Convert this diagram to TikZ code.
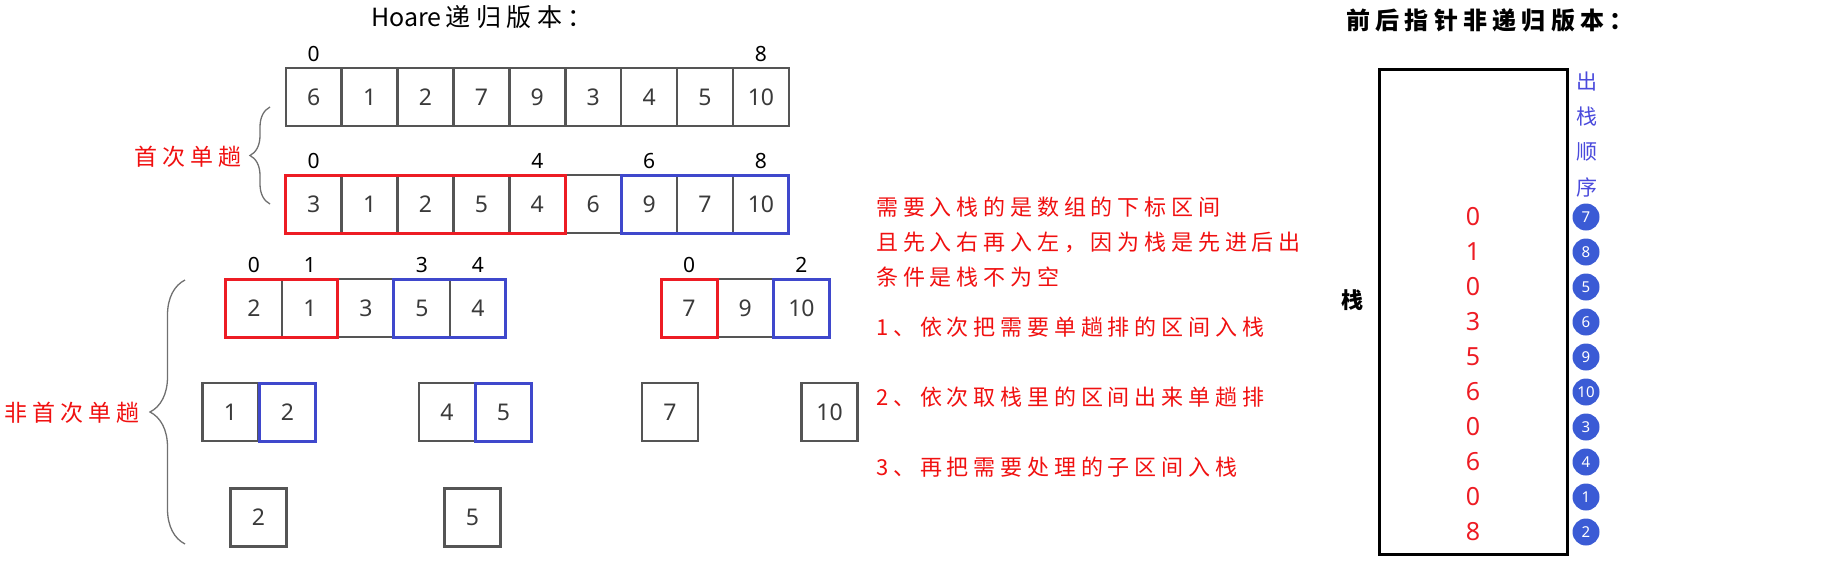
\documentclass[tikz,border=0pt]{standalone}
\usepackage{fontspec}
\setmainfont{Noto Sans}
\newfontfamily\cjk[LetterSpace=22]{Noto Sans CJK SC}
\newfontfamily\cjkplain{Noto Sans CJK SC}
\usetikzlibrary{positioning,decorations.pathreplacing}
\definecolor{cellgray}{HTML}{555555}
\definecolor{digitgray}{HTML}{3A3A3A}
\definecolor{boxred}{HTML}{ED1C24}
\definecolor{boxblue}{HTML}{3F48CC}
\definecolor{notered}{HTML}{F01010}
\definecolor{circblue}{HTML}{3B5BD5}
\definecolor{textblue}{HTML}{4A4ADC}
\definecolor{bracegray}{HTML}{707070}

\begin{document}
\begin{tikzpicture}[x=1pt,y=-1pt,
  cell/.style={draw=cellgray,line width=2.4pt,minimum width=56pt,minimum height=58pt,
    inner sep=0pt,outer sep=0pt,text=digitgray,font=\fontsize{23}{23}\selectfont},
  idx/.style={inner sep=0pt,font=\fontsize{21}{21}\selectfont},
  redbox/.style={draw=boxred,line width=3pt},
  bluebox/.style={draw=boxblue,line width=3pt},
  note/.style={text=notered,anchor=west,inner sep=0pt,font=\cjk\fontsize{22}{22}\selectfont},
  side/.style={text=notered,inner sep=0pt,font=\cjk\fontsize{23}{23}\selectfont},
  curly/.style={draw=bracegray,line width=1.3pt,decorate,decoration={brace,amplitude=#1}},
  stacknum/.style={text=boxred,inner sep=0pt,font=\fontsize{25}{25}\selectfont},
  order/.style={circle,fill=circblue,text=white,minimum size=27pt,inner sep=0pt,
    font=\fontsize{15}{15}\selectfont},
  ordertxt/.style={text=textblue,inner sep=0pt,font=\cjkplain\fontsize{21}{21}\selectfont}]
\useasboundingbox (0,0) rectangle (1831,560);

\node[inner sep=0pt,font=\fontsize{25}{25}\selectfont] (title1) at (482,17) {{\cjkplain Hoare}\,{\cjk 递归版本：}};

\foreach \v [count=\i from 0] in {6,1,2,7,9,3,4,5,10}
  \node[cell] (a\i) at (313.7+55.9*\i,97) {\v};
\node[idx,above=6pt of a0] (ia0) {0};
\node[idx,above=6pt of a8] (ia8) {8};

\foreach \v [count=\i from 0] in {3,1,2,5,4,6,9,7,10}
  \node[cell] (b\i) at (313.7+55.9*\i,204) {\v};
\node[idx,above=6pt of b0] (ib0) {0};
\node[idx,above=6pt of b4] (ib4) {4};
\node[idx,above=6pt of b6] (ib6) {6};
\node[idx,above=6pt of b8] (ib8) {8};
\draw[redbox] (b0.north west) rectangle (b4.south east);
\draw[bluebox] (b6.north west) rectangle (b8.south east);

\foreach \v [count=\i from 0] in {2,1,3,5,4}
  \node[cell] (c\i) at (253.9+56*\i,308) {\v};
\node[idx,above=6pt of c0] (ic0) {0};
\node[idx,above=6pt of c1] (ic1) {1};
\node[idx,above=6pt of c3] (ic3) {3};
\node[idx,above=6pt of c4] (ic4) {4};
\draw[redbox] (c0.north west) rectangle (c1.south east);
\draw[bluebox] (c3.north west) rectangle (c4.south east);

\foreach \v [count=\i from 0] in {7,9,10}
  \node[cell] (d\i) at (689+56.2*\i,308) {\v};
\node[idx,above=6pt of d0] (id0) {0};
\node[idx,above=6pt of d2] (id2) {2};
\draw[redbox] (d0.north west) rectangle (d0.south east);
\draw[bluebox] (d2.north west) rectangle (d2.south east);

\node[cell] (e0) at (230.5,412) {1};
\node[cell] (e1) at (287.5,412) {2};
\draw[bluebox] (e1.north west) rectangle (e1.south east);
\node[cell] (f0) at (447,412) {4};
\node[cell] (f1) at (503.5,412) {5};
\draw[bluebox] (f1.north west) rectangle (f1.south east);
\node[cell] (g0) at (670,412) {7};
\node[cell] (h0) at (829.5,412) {10};

\node[cell] (k0) at (258.5,517.5) {2};
\node[cell] (m0) at (472.5,517.5) {5};

\coordinate (br1a) at (270,107);
\coordinate (br1b) at (270,204);
\draw[curly=20pt] (br1b) -- (br1a);
\node[side] (first) at (188,157) {首次单趟};
\coordinate (br2a) at (185,280);
\coordinate (br2b) at (185,544);
\draw[curly=35pt] (br2b) -- (br2a);
\node[side] (notfirst) at (72,413) {非首次单趟};

\node[note] (n1) at (876,207) {需要入栈的是数组的下标区间};
\node[note] (n2) at (876,242) {且先入右再入左，因为栈是先进后出};
\node[note] (n3) at (876,277) {条件是栈不为空};
\node[note] (n4) at (876,327) {1、依次把需要单趟排的区间入栈};
\node[note] (n5) at (876,397) {2、依次取栈里的区间出来单趟排};
\node[note] (n6) at (876,467) {3、再把需要处理的子区间入栈};

\node[inner sep=0pt,font=\cjk\bfseries\fontsize{24}{24}\selectfont] (title2) at (1490,20) {前后指针非递归版本：};
\node[draw,line width=3pt,minimum width=188pt,minimum height=485pt,inner sep=0pt] (stk) at (1473,311.5) {};
\node[inner sep=0pt,font=\cjkplain\bfseries\fontsize{22}{22}\selectfont] (stklbl) at (1352,300) {栈};

\foreach \c [count=\k from 0] in {出,栈,顺,序}
  \node[ordertxt] (t\k) at (1587,82+35*\k) {\c};
\foreach \n [count=\k from 0] in {0,1,0,3,5,6,0,6,0,8}
  \node[stacknum] (s\k) at (1473,217+35*\k) {\n};
\foreach \n [count=\k from 0] in {7,8,5,6,9,10,3,4,1,2}
  \node[order] (o\k) at (1586,217+35*\k) {\n};
\end{tikzpicture}
\end{document}
